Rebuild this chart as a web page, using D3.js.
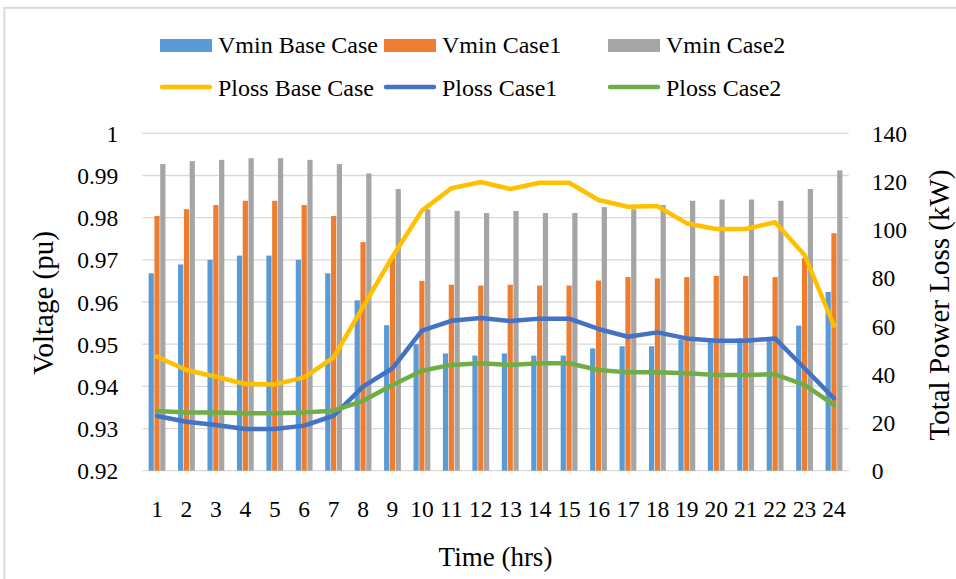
<!DOCTYPE html>
<html>
<head>
<meta charset="utf-8">
<script src="https://cdn.jsdelivr.net/npm/d3@7"></script>
<style>
  html, body { margin: 0; padding: 0; background: #ffffff; }
  svg text { font-family: "Liberation Serif", "Times New Roman", Times, serif !important; fill: #000; }
</style>
</head>
<body>
<svg id="chart" width="956" height="579"></svg>
<script>
const hours = ["1","2","3","4","5","6","7","8","9","10","11","12","13","14","15","16","17","18","19","20","21","22","23","24"];
const vminBase  = [0.9668,0.9689,0.9700,0.9710,0.9710,0.9700,0.9668,0.9604,0.9545,0.9500,0.9478,0.9473,0.9478,0.9473,0.9473,0.9490,0.9495,0.9495,0.9511,0.9513,0.9514,0.9516,0.9544,0.9624];
const vminCase1 = [0.9804,0.9820,0.9830,0.9840,0.9840,0.9830,0.9804,0.9742,0.9704,0.9650,0.9641,0.9639,0.9641,0.9639,0.9639,0.9651,0.9659,0.9656,0.9659,0.9662,0.9662,0.9659,0.9704,0.9763];
const vminCase2 = [0.9927,0.9934,0.9937,0.9941,0.9941,0.9937,0.9927,0.9905,0.9868,0.9820,0.9816,0.9811,0.9816,0.9811,0.9811,0.9825,0.9820,0.9830,0.9840,0.9843,0.9843,0.9840,0.9868,0.9912];
const plossBase  = [47.3,41.8,39.0,36.0,35.8,38.7,47.0,68.0,88.8,107.9,117.2,119.8,116.9,119.5,119.5,112.3,109.5,109.8,102.6,100.3,100.3,103.1,89.5,60.2];
const plossCase1 = [22.7,20.3,19.0,17.3,17.3,18.7,22.8,34.9,42.5,58.1,62.2,63.4,62.1,63.1,63.1,58.8,55.6,57.4,54.9,53.9,53.9,54.9,42.5,30.0];
const plossCase2 = [24.8,24.2,24.1,23.8,23.8,24.2,24.9,29.0,35.6,41.5,43.9,44.6,43.9,44.6,44.6,41.8,40.8,40.8,40.4,39.7,39.7,40.0,35.6,27.3];
const leftTicks  = [0.92,0.93,0.94,0.95,0.96,0.97,0.98,0.99,1];
const rightTicks = [0,20,40,60,80,100,120,140];

const barSeries = [
  {name: "Vmin Base Case", values: vminBase,  color: "#5b9bd5"},
  {name: "Vmin Case1",     values: vminCase1, color: "#ed7d31"},
  {name: "Vmin Case2",     values: vminCase2, color: "#a5a5a5"}
];
const lineSeries = [
  {name: "Ploss Base Case", values: plossBase,  color: "#ffc000"},
  {name: "Ploss Case1",     values: plossCase1, color: "#4472c4"},
  {name: "Ploss Case2",     values: plossCase2, color: "#70ad47"}
];

const FONT = "Liberation Serif, Times New Roman, serif";
const svg = d3.select("#chart");
const plot = {left: 142.3, right: 848.7, top: 133.3, bottom: 470.7};

// outer border
svg.append("rect").attr("x", 4.3).attr("y", 7.8).attr("width", 1200).attr("height", 1200)
  .attr("fill", "none").attr("stroke", "#d9d9d9").attr("stroke-width", 2);

const x0 = d3.scaleBand().domain(hours).range([plot.left, plot.right]).paddingInner(0.408).paddingOuter(0.204);
const x1 = d3.scaleBand().domain(barSeries.map(s => s.name)).range([0, x0.bandwidth()]).padding(0);
const yL = d3.scaleLinear().domain([0.92, 1]).range([plot.bottom, plot.top]);
const yR = d3.scaleLinear().domain([0, 140]).range([plot.bottom, plot.top]);

// gridlines
svg.append("g").selectAll("line").data(leftTicks).join("line")
  .attr("x1", plot.left).attr("x2", plot.right)
  .attr("y1", d => yL(d)).attr("y2", d => yL(d))
  .attr("stroke", "#d9d9d9").attr("stroke-width", 1.3);

// bars
const gBars = svg.append("g");
barSeries.forEach(s => {
  gBars.append("g").selectAll("rect").data(hours).join("rect")
    .attr("x", (h) => x0(h) + x1(s.name) + 0.3)
    .attr("width", x1.bandwidth() - 0.6)
    .attr("y", (h, i) => yL(s.values[i]))
    .attr("height", (h, i) => plot.bottom - yL(s.values[i]))
    .attr("fill", s.color);
});

// lines
const xc = h => x0(h) + x0.bandwidth() / 2;
lineSeries.forEach(s => {
  const line = d3.line().x((d, i) => xc(hours[i])).y(d => yR(d));
  svg.append("path").datum(s.values).attr("d", line)
    .attr("fill", "none").attr("stroke", s.color).attr("stroke-width", 4.5)
    .attr("stroke-linejoin", "round").attr("stroke-linecap", "round");
});

// axes
const axL = d3.axisLeft(yL).tickValues(leftTicks).tickFormat(d => d === 1 ? "1" : d3.format(".2f")(d)).tickSize(0).tickPadding(24);
const gL = svg.append("g").attr("transform", `translate(${plot.left},0)`).call(axL);
gL.attr("font-family", FONT);
gL.select(".domain").remove();
gL.selectAll("text").attr("font-size", 23.5).attr("fill", "#000").attr("font-family", FONT).attr("dy", "0.34em");

const axR = d3.axisRight(yR).tickValues(rightTicks).tickSize(0).tickPadding(23);
const gR = svg.append("g").attr("transform", `translate(${plot.right},0)`).call(axR);
gR.attr("font-family", FONT);
gR.select(".domain").remove();
gR.selectAll("text").attr("font-size", 23.5).attr("fill", "#000").attr("font-family", FONT).attr("dy", "0.34em");

const axB = d3.axisBottom(x0).tickSize(0).tickPadding(30);
const gB = svg.append("g").attr("transform", `translate(0,${plot.bottom})`).call(axB);
gB.attr("font-family", FONT);
gB.select(".domain").remove();
gB.selectAll("text").attr("font-size", 23.5).attr("fill", "#000").attr("font-family", FONT).attr("dy", "0.71em");

// axis titles
svg.append("text").attr("x", (plot.left + plot.right) / 2).attr("y", 566)
  .attr("text-anchor", "middle").attr("font-family", FONT).attr("font-size", 27).text("Time (hrs)");
svg.append("text").attr("transform", "translate(53,303) rotate(-90)")
  .attr("text-anchor", "middle").attr("font-family", FONT).attr("font-size", 29).text("Voltage (pu)");
svg.append("text").attr("transform", "translate(949,305) rotate(-90)")
  .attr("text-anchor", "middle").attr("font-family", FONT).attr("font-size", 29).text("Total Power Loss (kW)");

// legend
const legX = [160, 384, 608];
const gLeg = svg.append("g");
barSeries.forEach((s, i) => {
  gLeg.append("rect").attr("x", legX[i]).attr("y", 39).attr("width", 52).attr("height", 13).attr("fill", s.color);
  gLeg.append("text").attr("x", legX[i] + 58).attr("y", 53.3).attr("font-family", FONT).attr("font-size", 24).text(s.name);
});
lineSeries.forEach((s, i) => {
  gLeg.append("line").attr("x1", legX[i] + 2).attr("x2", legX[i] + 50).attr("y1", 87).attr("y2", 87)
    .attr("stroke", s.color).attr("stroke-width", 4.5).attr("stroke-linecap", "round");
  gLeg.append("text").attr("x", legX[i] + 58).attr("y", 95.7).attr("font-family", FONT).attr("font-size", 24).text(s.name);
});
</script>
</body>
</html>
